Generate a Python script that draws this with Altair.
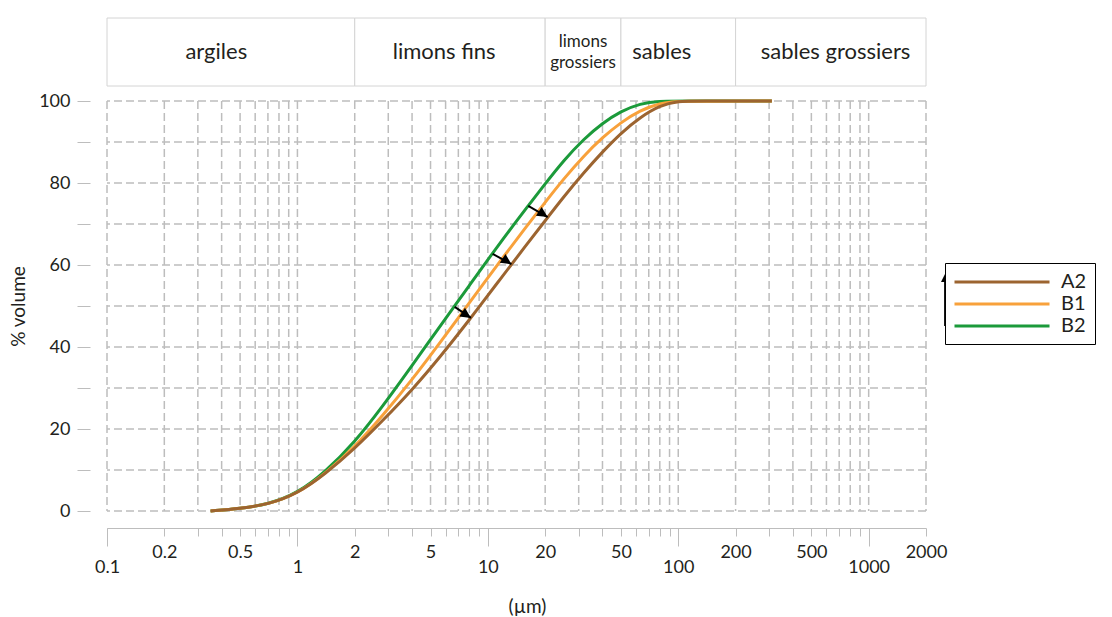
import altair as alt
import pandas as pd

# ---------------- data ----------------
SERIES = ["A2", "B1", "B2"]
SERIES_COLORS = ["#9C6430", "#F8A13B", "#1B9A3A"]

# B2 (green)
b2_um = [0.35, 0.5, 0.7, 1.0, 1.4, 2.0, 2.8, 4.0, 5.6, 8.0, 11.2, 16.0, 20.0, 25.0, 32.0, 40.0, 50.0, 63.0, 80.0, 100.0, 310.0]
b2_pct = [0.0, 0.6, 1.6, 4.3, 9.5, 16.8, 25.5, 35.5, 45.0, 55.0, 64.5, 74.0, 79.8, 85.5, 90.8, 94.6, 97.5, 99.4, 100.0, 100.0, 100.0]
# B1 (orange)
b1_um = [0.35, 0.5, 0.7, 1.0, 1.4, 2.0, 2.8, 4.0, 5.6, 8.0, 11.2, 16.0, 20.0, 25.0, 32.0, 40.0, 50.0, 63.0, 80.0, 100.0, 310.0]
b1_pct = [0.0, 0.6, 1.6, 4.2, 9.1, 15.6, 23.2, 32.0, 41.0, 50.8, 60.0, 69.5, 75.3, 81.0, 86.7, 91.1, 94.8, 97.7, 99.5, 100.0, 100.0]
# A2 (brown)
a2_um = [0.35, 0.5, 0.7, 1.0, 1.4, 2.0, 2.8, 4.0, 5.6, 8.0, 11.2, 16.0, 20.0, 25.0, 32.0, 40.0, 50.0, 63.0, 80.0, 100.0, 125.0, 310.0]
a2_pct = [0.0, 0.6, 1.6, 4.2, 9.0, 15.2, 22.0, 29.5, 37.5, 46.6, 55.6, 65.0, 70.8, 76.6, 82.6, 87.6, 92.2, 96.0, 98.9, 100.0, 100.0, 100.0]

# arrows (from B2 curve towards A2 curve)
arrow_from_um = [6.7, 10.6, 16.3]
arrow_from_pct = [49.8, 62.7, 74.4]
arrow_to_um = [8.15, 13.3, 20.6]
arrow_to_pct = [47.1, 60.2, 71.7]

# size classes (top band)
class_labels = ["argiles", "limons fins", "sables", "sables grossiers"]
class_label_um = [0.375, 5.9, 82.0, 670.0]
small_class_label = ["limons\ngrossiers"]
small_class_label_um = [31.6]
class_start = [0.1, 2, 20, 50, 200]
class_end = [2, 20, 50, 200, 2000]

# ticks
x_ticks = [0.1, 0.2, 0.3, 0.4, 0.5, 0.6, 0.7, 0.8, 0.9,
           1, 2, 3, 4, 5, 6, 7, 8, 9,
           10, 20, 30, 40, 50, 60, 70, 80, 90,
           100, 200, 300, 400, 500, 600, 700, 800, 900,
           1000, 2000]
x_labels_high = ["0.2", "0.5", "2", "5", "20", "50", "200", "500", "2000"]
x_major = [0.1, 1, 10, 100, 1000]
y_ticks = [0, 10, 20, 30, 40, 50, 60, 70, 80, 90, 100]

# ---------------- build ----------------
FONT = "Lato"
TXT = "#231F20"
GRID = "#BDBDBD"

curves = pd.concat([
    pd.DataFrame({"size": b2_um, "pct": b2_pct, "series": "B2"}),
    pd.DataFrame({"size": b1_um, "pct": b1_pct, "series": "B1"}),
    pd.DataFrame({"size": a2_um, "pct": a2_pct, "series": "A2"}),
], ignore_index=True)

arrows = pd.DataFrame({"x1": arrow_from_um, "y1": arrow_from_pct,
                       "x2": arrow_to_um, "y2": arrow_to_pct})

xscale = alt.Scale(type="log", domain=[0.1, 2000], nice=False)
yscale = alt.Scale(domain=[0, 100], nice=False, zero=False)

lab_list = "[" + ",".join("'" + s + "'" for s in x_labels_high) + "]"

# axis with all (short) ticks and the upper row of labels
xaxis_minor = alt.Axis(
    orient="bottom", values=x_ticks, format="~g", offset=17, grid=False,
    domain=True, domainColor=GRID, domainWidth=1,
    tickColor=GRID, tickWidth=1, tickSize=8,
    labelPadding=7,
    labelExpr="indexof(" + lab_list + ", datum.label) >= 0 ? datum.label : ''",
    labelOverlap=False, labelFlush=False, labelFontSize=18, labelColor=TXT,
    labelFont=FONT,
    title="(µm)", titleFontSize=19, titleFontWeight="normal", titleColor=TXT,
    titleFont=FONT, titleX=420, titleY=78, titleBaseline="middle",
)
# axis with the decade (long) ticks and the lower row of labels
xaxis_major = alt.Axis(
    orient="bottom", values=x_major, format="~g", offset=17, grid=False,
    domain=False, tickColor=GRID, tickWidth=1, tickSize=18,
    labelPadding=12, labelOverlap=False, labelFlush=False,
    labelFontSize=18, labelColor=TXT, labelFont=FONT, title=None,
)
yaxis = alt.Axis(
    orient="left", values=y_ticks, offset=17, grid=False, domain=False,
    tickColor=GRID, tickWidth=1, tickSize=13,
    labelExpr="datum.value % 20 === 0 ? datum.label : ''",
    labelPadding=7, labelFontSize=18, labelColor=TXT, labelFont=FONT,
    labelOverlap=False,
    title="% volume", titleFontSize=19, titleFontWeight="normal",
    titleColor=TXT, titleFont=FONT, titlePadding=10,
)

legend = alt.Legend(
    title=None, orient="none", legendX=838, legendY=245,
    symbolType="M-5,0 L5,0", symbolSize=361, symbolStrokeWidth=3,
    symbolOffset=38, symbolFillColor="transparent",
    labelFontSize=20, labelFont=FONT, labelColor=TXT, labelOffset=48,
    labelExpr="datum.label + '\u00a0\u00a0\u00a0\u00a0'",
    strokeColor="black", fillColor="white", padding=8, rowPadding=1,
)

color = alt.Color("series:N", scale=alt.Scale(domain=SERIES, range=SERIES_COLORS),
                  legend=legend)

grid_x = alt.Chart(pd.DataFrame({"g": x_ticks})).mark_rule(
    color=GRID, strokeWidth=1.5, strokeDash=[8, 4]
).encode(x=alt.X("g:Q", scale=xscale, axis=None))

grid_y = alt.Chart(pd.DataFrame({"g": y_ticks})).mark_rule(
    color=GRID, strokeWidth=1.5, strokeDash=[8, 4]
).encode(y=alt.Y("g:Q", scale=yscale, axis=yaxis))

major_axis_layer = alt.Chart(pd.DataFrame({"g": x_major})).mark_point(
    opacity=0
).encode(x=alt.X("g:Q", scale=xscale, axis=xaxis_major))

line_layers = []
for i, s in enumerate(["B2", "B1", "A2"]):
    line_layers.append(
        alt.Chart(curves).transform_filter(alt.datum.series == s)
        .mark_line(strokeWidth=3, interpolate="basis")
        .encode(
            x=alt.X("size:Q", scale=xscale, axis=xaxis_minor if i == 0 else None),
            y=alt.Y("pct:Q", scale=yscale, axis=None),
            color=color,
        )
    )

arrow_lines = alt.Chart(arrows).mark_rule(color="black", strokeWidth=2).encode(
    x=alt.X("x1:Q", scale=xscale, axis=None),
    y=alt.Y("y1:Q", scale=yscale, axis=None),
    x2="x2:Q", y2="y2:Q",
)
arrow_heads = alt.Chart(arrows).mark_point(
    shape="M0,0 L-1,-0.5 L-1,0.5 Z", filled=True, color="black",
    opacity=1, size=440, angle=33, strokeWidth=0,
).encode(
    x=alt.X("x2:Q", scale=xscale, axis=None),
    y=alt.Y("y2:Q", scale=yscale, axis=None),
)

# arrow drawn on the legend frame (decoration)
leg_arrow = alt.Chart(pd.DataFrame({"k": [0]})).mark_rule(
    color="black", strokeWidth=1.8
).encode(x=alt.value(838), y=alt.value(225), y2=alt.value(180))
leg_arrow_head = alt.Chart(pd.DataFrame({"k": [0]})).mark_point(
    shape="M0,0 L-0.5,1 L0.5,1 Z", filled=True, color="black",
    opacity=1, size=256, strokeWidth=0,
).encode(x=alt.value(838), y=alt.value(173))

main = alt.layer(
    grid_x, grid_y, major_axis_layer, *line_layers, arrow_lines, arrow_heads,
    leg_arrow, leg_arrow_head
).resolve_axis(x="independent", y="independent").properties(width=819, height=410)

# top band
band_rects = alt.Chart(pd.DataFrame({"s": class_start, "e": class_end})).mark_rect(
    fill="white", stroke="#D4D4D4", strokeWidth=1
).encode(x=alt.X("s:Q", scale=xscale, axis=None), x2="e:Q")

band_text = alt.Chart(pd.DataFrame({"p": class_label_um, "t": class_labels})).mark_text(
    font=FONT, fontSize=22, color=TXT, baseline="middle", align="center"
).encode(x=alt.X("p:Q", scale=xscale, axis=None), text="t:N")

band_text_small = alt.Chart(pd.DataFrame({"p": small_class_label_um, "t": small_class_label})).mark_text(
    font=FONT, fontSize=17, color=TXT, baseline="middle", align="center",
    lineBreak="\n", lineHeight=21, dy=-10,
).encode(x=alt.X("p:Q", scale=xscale, axis=None), text="t:N")

band = alt.layer(band_rects, band_text, band_text_small).properties(width=819, height=68)

chart = alt.vconcat(band, main, spacing=5).properties(
    padding={"left": 9, "top": 17, "right": 0, "bottom": 0},
    background="white",
).configure_view(stroke=None)

chart.save("out.html", embed_options={"renderer": "svg", "actions": False})
